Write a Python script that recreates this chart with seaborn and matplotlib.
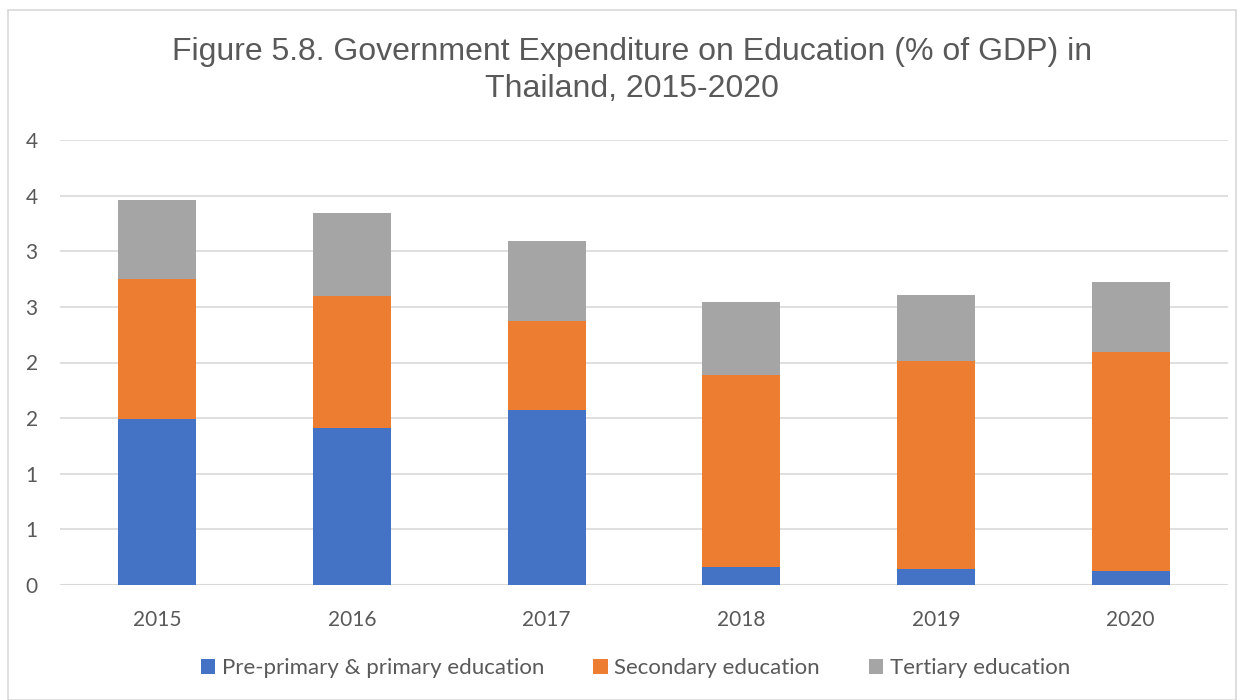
import matplotlib
matplotlib.use("Agg")
import matplotlib.pyplot as plt
import seaborn as sns
import pandas as pd
import numpy as np
from matplotlib.patches import Rectangle, Patch

years = ["2015", "2016", "2017", "2018", "2019", "2020"]
primary = [1.49, 1.41, 1.57, 0.16, 0.14, 0.13]
secondary = [1.26, 1.19, 0.80, 1.73, 1.87, 1.96]
tertiary = [0.71, 0.74, 0.72, 0.65, 0.60, 0.63]
series_names = ["Pre-primary & primary education", "Secondary education", "Tertiary education"]
ytick_values = [0, 0.5, 1.0, 1.5, 2.0, 2.5, 3.0, 3.5, 4.0]
ytick_labels = ["0", "1", "1", "2", "2", "3", "3", "4", "4"]
title = "Figure 5.8. Government Expenditure on Education (% of GDP) in\nThailand, 2015-2020"

colors = ["#4472C4", "#ED7D31", "#A5A5A5"]

sns.set_theme(style="white")
plt.rcParams['font.family'] = ['Lato', 'DejaVu Sans']

df = pd.DataFrame({"year": years, "p": primary, "s": secondary, "t": tertiary})
df["ps"] = df["p"] + df["s"]
df["pst"] = df["ps"] + df["t"]

fig = plt.figure(figsize=(12.44, 7.0), dpi=100)
ax = fig.add_axes([60/1244, 1 - 585/700, (1228-60)/1244, (585-140)/700])

sns.barplot(data=df, x="year", y="pst", color=colors[2], width=0.4, ax=ax,
            saturation=1, edgecolor="none", linewidth=0, zorder=3)
sns.barplot(data=df, x="year", y="ps", color=colors[1], width=0.4, ax=ax,
            saturation=1, edgecolor="none", linewidth=0, zorder=3)
sns.barplot(data=df, x="year", y="p", color=colors[0], width=0.4, ax=ax,
            saturation=1, edgecolor="none", linewidth=0, zorder=3)

ax.set_ylim(0, 4.0)
ax.set_xlim(-0.5, len(years) - 0.5)
ax.set_yticks(ytick_values)
ax.set_yticklabels(ytick_labels)
ax.set_xlabel("")
ax.set_ylabel("")
ax.grid(axis="y", color="#d9d9d9", linewidth=1.2, zorder=0)
ax.grid(axis="x", visible=False)
for sp in ax.spines.values():
    sp.set_visible(False)
ax.axhline(0, color="#d9d9d9", linewidth=1.5, zorder=2)
ax.tick_params(axis="both", length=0, labelsize=15, colors="#595959")
ax.tick_params(axis="y", pad=16)
ax.tick_params(axis="x", pad=18)

fig.text(0.508, 0.947, title, ha="center", va="top", fontsize=23,
         color="#595959", family=["Liberation Sans", "DejaVu Sans"], linespacing=1.3)

handles = [Patch(facecolor=c, edgecolor="none") for c in colors]
fig.legend(handles, series_names, loc="center", bbox_to_anchor=(0.511, 1 - 668/700),
           ncol=3, frameon=False, fontsize=16, labelcolor="#595959",
           handlelength=0.65, handleheight=0.65, handletextpad=0.3, columnspacing=2.2)

fig.patches.append(Rectangle((8/1244, 0.0), 1 - 16/1244, 1 - 10/700, transform=fig.transFigure,
                             fill=False, edgecolor="#d9d9d9", linewidth=1.2))

fig.savefig("out.png", dpi=100, facecolor="white")
